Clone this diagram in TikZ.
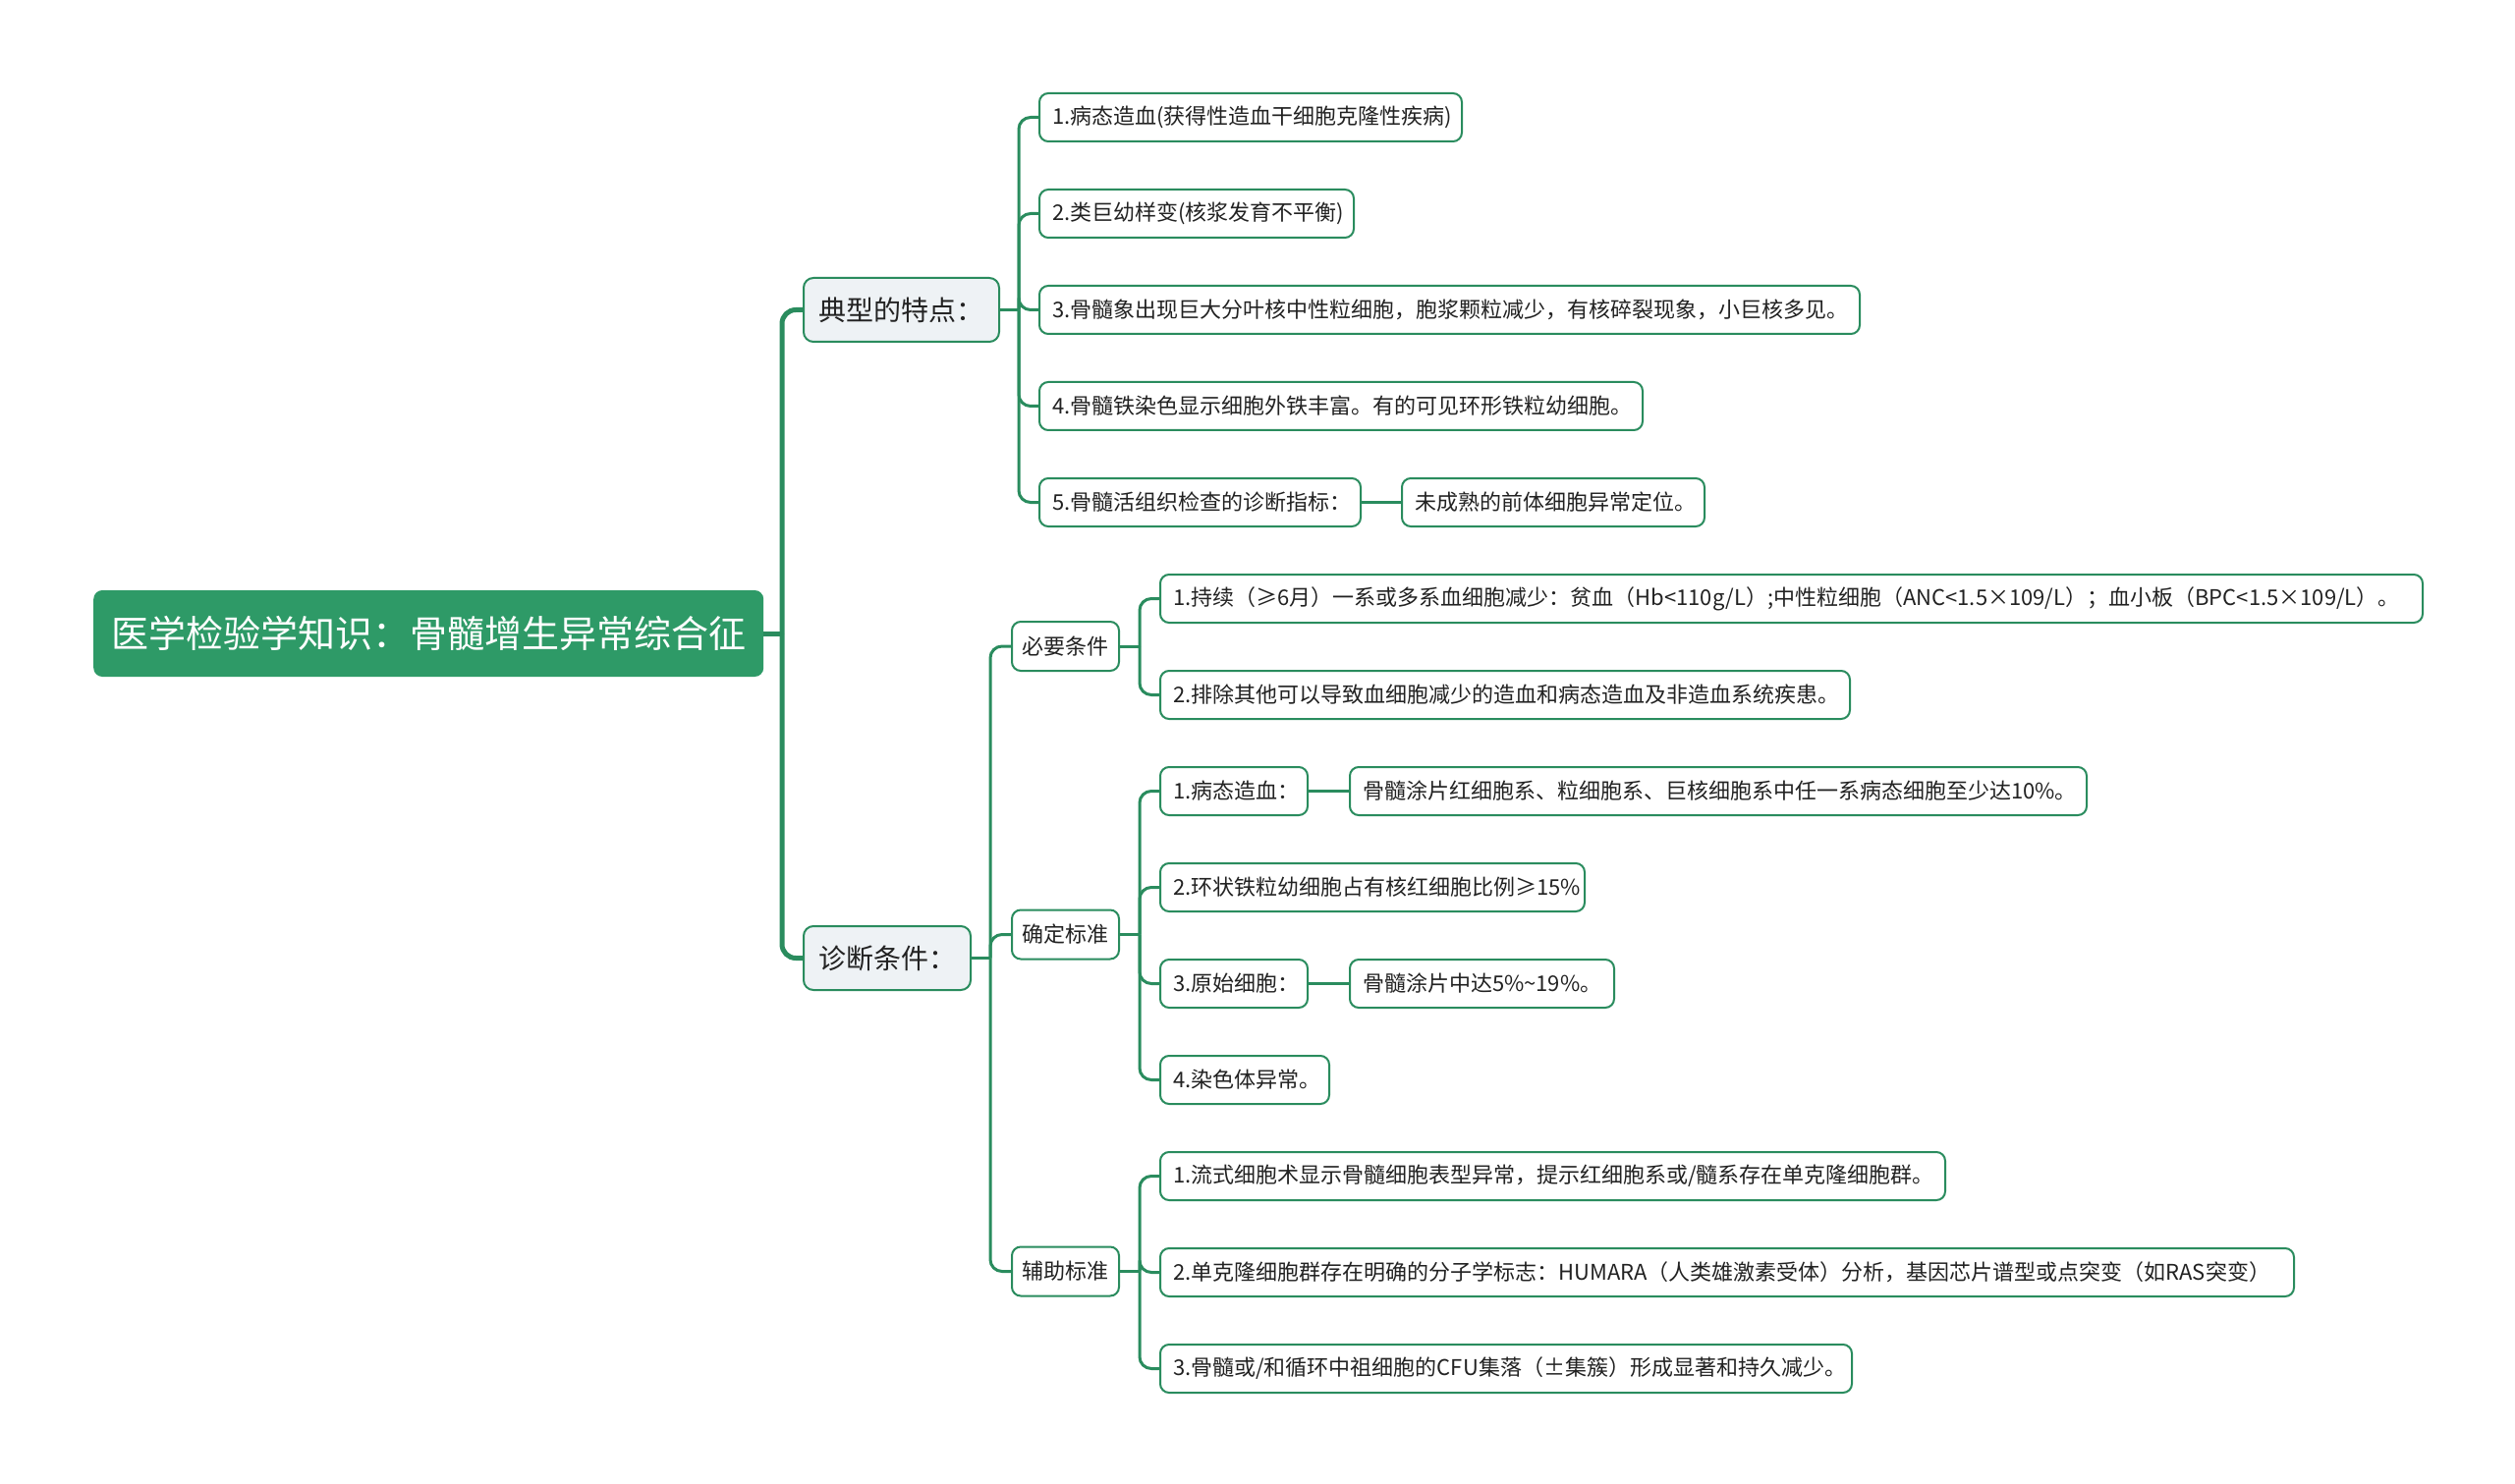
\documentclass[tikz,border=0pt]{standalone}
\usepackage{fontspec}
\setmainfont{Noto Sans CJK SC}
\definecolor{lg}{HTML}{2A8C5E}
\definecolor{rootg}{HTML}{2E9A67}
\definecolor{lgray}{HTML}{EEF2F5}
\definecolor{txt}{HTML}{222222}
\begin{document}
\begin{tikzpicture}[x=1pt,y=-1pt,
  every node/.style={inner sep=0pt},
  conn/.style={draw=lg, line width=3pt},
  trunk/.style={draw=lg, line width=5pt},
  elbow/.style={rounded corners=12pt},
  rootbox/.style={fill=rootg, rounded corners=9pt, text=white, font=\fontsize{38pt}{44pt}\selectfont, minimum height=88pt, anchor=west, align=center},
  lone/.style={fill=lgray, draw=lg, line width=2pt, rounded corners=10pt, font=\fontsize{28pt}{32pt}\selectfont, minimum height=65pt, anchor=west, inner xsep=15pt, align=left, text=txt},
  mid/.style={fill=white, draw=lg, line width=2pt, rounded corners=9pt, font=\fontsize{22pt}{26pt}\selectfont, minimum height=50pt, minimum width=109pt, anchor=west, align=center, text=txt},
  leaf/.style={fill=white, draw=lg, line width=2pt, rounded corners=9pt, font=\fontsize{22pt}{26pt}\selectfont, minimum height=49pt, anchor=west, inner xsep=13pt, align=left, text=txt}
]
\useasboundingbox[fill=white] (0,0) rectangle (2560,1511);

% root and first level
\node[rootbox, minimum width=682pt] (root) at (95,645) {医学检验学知识：骨髓增生异常综合征};
\node[lone, text width=169pt] (t1) at (817,315.5) {典型的特点：};
\node[lone, text width=140pt] (d1) at (817,975.5) {诊断条件：};

% typical features
\node[leaf, text width=404pt] (n0) at (1057,119.5) {1.病态造血(获得性造血干细胞克隆性疾病)};
\node[leaf, text width=294pt] (n1) at (1057,217.5) {2.类巨幼样变(核浆发育不平衡)};
\node[leaf, text width=809pt] (n2) at (1057,315.5) {3.骨髓象出现巨大分叶核中性粒细胞，胞浆颗粒减少，有核碎裂现象，小巨核多见。};
\node[leaf, text width=588pt] (n3) at (1057,413.5) {4.骨髓铁染色显示细胞外铁丰富。有的可见环形铁粒幼细胞。};
\node[leaf, text width=301pt] (n4) at (1057,511.5) {5.骨髓活组织检查的诊断指标：};
\node[leaf, text width=282pt] (n4c) at (1426,511.5) {未成熟的前体细胞异常定位。};

% diagnosis groups
\node[mid] (m1) at (1029,658) {必要条件};
\node[mid] (m2) at (1029,951.5) {确定标准};
\node[mid] (m3) at (1029,1294.5) {辅助标准};

\node[leaf, text width=1259pt] (n5) at (1180,609.5) {1.持续（≥6月）一系或多系血细胞减少：贫血（Hb<110g/L）;中性粒细胞（ANC<1.5×109/L）；血小板（BPC<1.5×109/L）。};
\node[leaf, text width=676pt] (n6) at (1180,707.5) {2.排除其他可以导致血细胞减少的造血和病态造血及非造血系统疾患。};

\node[leaf, text width=124pt] (n7) at (1180,805.5) {1.病态造血：};
\node[leaf, text width=724pt] (n7c) at (1373,805.5) {骨髓涂片红细胞系、粒细胞系、巨核细胞系中任一系病态细胞至少达10\%。};
\node[leaf, text width=406pt] (n8) at (1180,903.5) {2.环状铁粒幼细胞占有核红细胞比例≥15\%};
\node[leaf, text width=124pt] (n9) at (1180,1001.5) {3.原始细胞：};
\node[leaf, text width=243pt] (n9c) at (1373,1001.5) {骨髓涂片中达5\%\textasciitilde19\%。};
\node[leaf, text width=146pt] (n10) at (1180,1099.5) {4.染色体异常。};

\node[leaf, text width=773pt] (n11) at (1180,1197.5) {1.流式细胞术显示骨髓细胞表型异常，提示红细胞系或/髓系存在单克隆细胞群。};
\node[leaf, text width=1128pt] (n12) at (1180,1295.5) {2.单克隆细胞群存在明确的分子学标志：HUMARA（人类雄激素受体）分析，基因芯片谱型或点突变（如RAS突变）};
\node[leaf, text width=678pt] (n13) at (1180,1393.5) {3.骨髓或/和循环中祖细胞的CFU集落（±集簇）形成显著和持久减少。};

% spine coordinates
\coordinate (sR) at (796,645);
\coordinate (sT) at (1037,315.5);
\coordinate (sD) at (1008,975.5);
\coordinate (s1) at (1160,658);
\coordinate (s2) at (1160,951.5);
\coordinate (s3) at (1160,1294.5);

% root connectors
\draw[trunk] (root.east) -- (sR);
\draw[trunk, rounded corners=14pt] (sR) |- (t1.west);
\draw[trunk, rounded corners=14pt] (sR) |- (d1.west);

% typical features connectors
\draw[conn] (t1.east) -- (sT);
\foreach \n in {n0,n1,n2,n3,n4} \draw[conn, elbow] (sT) |- (\n.west);
\draw[conn] (n4.east) -- (n4c.west);

% diagnosis connectors
\draw[conn] (d1.east) -- (sD);
\foreach \n in {m1,m2,m3} \draw[conn, elbow] (sD) |- (\n.west);

\draw[conn] (m1.east) -- (s1);
\foreach \n in {n5,n6} \draw[conn, elbow] (s1) |- (\n.west);

\draw[conn] (m2.east) -- (s2);
\foreach \n in {n7,n8,n9,n10} \draw[conn, elbow] (s2) |- (\n.west);
\draw[conn] (n7.east) -- (n7c.west);
\draw[conn] (n9.east) -- (n9c.west);

\draw[conn] (m3.east) -- (s3);
\foreach \n in {n11,n12,n13} \draw[conn, elbow] (s3) |- (\n.west);
\end{tikzpicture}
\end{document}
